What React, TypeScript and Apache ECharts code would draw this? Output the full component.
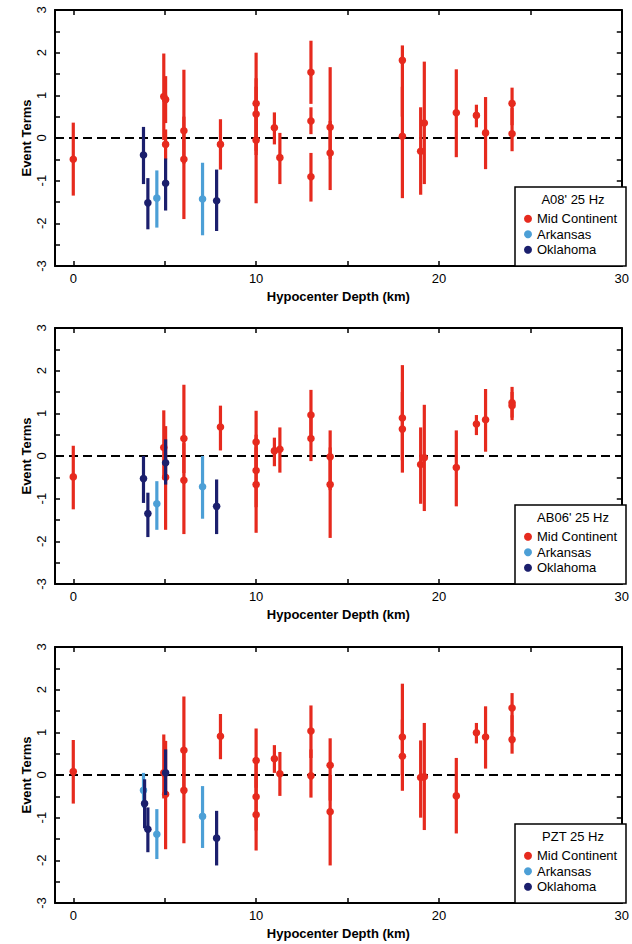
import React, { useEffect, useRef } from 'react';
import * as echarts from 'echarts';

// [depth (km), event term, lower end of bar, upper end of bar]
const a08Mid = [
  [0, -0.5, -1.35, 0.36], [4.95, 0.97, -0.05, 1.98], [5.05, 0.9, 0.35, 1.45], [5.05, -0.15, -0.5, 0.2],
  [6.05, 0.17, -0.6, 1.6], [6.05, -0.5, -1.9, 0.5], [8.05, -0.15, -0.74, 0.44],
  [10.0, 0.81, -0.4, 2.0], [10.0, 0.56, -0.3, 1.4], [10.0, -0.05, -1.53, 1.2],
  [11.0, 0.24, -0.15, 0.6], [11.3, -0.46, -1.08, 0.12],
  [13.0, 1.54, 0.8, 2.28], [13.0, 0.4, 0.09, 0.72], [13.0, -0.91, -1.49, -0.35],
  [14.05, 0.25, -0.5, 1.66], [14.05, -0.35, -1.22, 0.4],
  [18.0, 1.82, 0.5, 2.17], [18.0, 0.04, -1.41, 1.2],
  [19.0, -0.31, -1.33, 0.72], [19.2, 0.35, -1.08, 1.79],
  [20.95, 0.59, -0.45, 1.61], [22.05, 0.53, 0.25, 0.78], [22.55, 0.12, -0.73, 0.96],
  [24.0, 0.81, 0.3, 1.18], [24.0, 0.1, -0.31, 0.7],
];
const a08Ark = [[4.57, -1.41, -2.1, -0.76], [7.07, -1.43, -2.28, -0.58]];
const a08Okl = [[3.84, -0.4, -1.08, 0.26], [4.08, -1.52, -2.14, -0.94], [5.05, -1.06, -1.7, -0.48], [7.84, -1.47, -2.18, -0.74]];

const ab06Mid = [
  [0, -0.49, -1.25, 0.24], [4.95, 0.2, -0.55, 1.07], [5.05, -0.5, -1.73, 0.7],
  [6.05, 0.41, -0.4, 1.67], [6.05, -0.57, -1.83, 0.3], [8.05, 0.68, 0.13, 1.18],
  [10.0, 0.33, -0.3, 1.06], [10.0, -0.34, -1.2, 0.5], [10.0, -0.67, -1.8, 0.2],
  [11.0, 0.12, -0.24, 0.43], [11.3, 0.16, -0.39, 0.67],
  [13.0, 0.96, 0.4, 1.55], [13.0, 0.41, -0.12, 0.9],
  [14.05, -0.02, -0.8, 0.6], [14.05, -0.67, -1.92, 0.2],
  [18.0, 0.89, -0.1, 2.13], [18.0, 0.63, -0.39, 1.5],
  [19.0, -0.2, -1.12, 0.67], [19.2, -0.04, -1.29, 1.2],
  [20.95, -0.27, -1.18, 0.6], [22.05, 0.75, 0.49, 0.96], [22.55, 0.85, 0.1, 1.57],
  [24.0, 1.25, 0.9, 1.62], [24.0, 1.18, 0.84, 1.5],
];
const ab06Ark = [[4.57, -1.12, -1.73, -0.59], [7.07, -0.72, -1.47, 0.0]];
const ab06Okl = [[3.84, -0.53, -1.1, 0.0], [4.08, -1.35, -1.9, -0.86], [5.05, -0.16, -0.67, 0.39], [7.84, -1.18, -1.83, -0.55]];

const pztMid = [
  [0, 0.08, -0.67, 0.82], [4.95, 0.05, -0.55, 0.95], [5.05, -0.45, -1.74, 0.8],
  [6.05, 0.58, -0.3, 1.84], [6.05, -0.36, -1.6, 0.5], [8.05, 0.91, 0.37, 1.43],
  [10.0, 0.34, -0.3, 1.09], [10.0, -0.51, -1.3, 0.4], [10.0, -0.93, -1.77, 0.0],
  [11.0, 0.38, 0.05, 0.7], [11.3, 0.03, -0.49, 0.54],
  [13.0, 1.03, 0.4, 1.63], [13.0, -0.02, -0.53, 0.6],
  [14.05, 0.23, -0.6, 0.86], [14.05, -0.86, -2.12, 0.0],
  [18.0, 0.89, 0.0, 2.14], [18.0, 0.44, -0.37, 1.3],
  [19.0, -0.06, -1.0, 0.81], [19.2, -0.04, -1.29, 1.22],
  [20.95, -0.49, -1.37, 0.4], [22.05, 0.99, 0.74, 1.22], [22.55, 0.89, 0.15, 1.61],
  [24.0, 1.57, 1.0, 1.92], [24.0, 0.83, 0.5, 1.4],
];
const pztArk = [[3.84, -0.36, -0.76, 0.05], [4.57, -1.39, -1.97, -0.8], [7.07, -0.97, -1.71, -0.26]];
const pztOkl = [[3.9, -0.67, -1.25, -0.1], [4.08, -1.27, -1.81, -0.76], [5.05, 0.05, -0.47, 0.6], [7.84, -1.48, -2.12, -0.84]];

const panelTitles = ["A08' 25 Hz", "AB06' 25 Hz", 'PZT 25 Hz'];
const panelData = [
  [a08Mid, a08Ark, a08Okl],
  [ab06Mid, ab06Ark, ab06Okl],
  [pztMid, pztArk, pztOkl],
];
const groupNames = ['Mid Continent', 'Arkansas', 'Oklahoma'];
const groupColors = ['#e62a1e', '#4c9fd6', '#1b1f6d'];
const depthTicks = [0, 5, 10, 15, 20, 25, 30];
const depthLabels = [0, 10, 20, 30];
const termLabels = [-3, -2, -1, 0, 1, 2, 3];
const zeroLine = [[-1, 0], [30, 0]];

const FONT = '"Liberation Sans", Arial, Helvetica, sans-serif';
const TOPS = [10, 328, 647];
const LEFT = 55;
const WIDTH = 571;
const HEIGHT = 256;

function makeRender(color: string) {
  return (params: any, api: any) => {
    const x = api.value(0);
    const p = api.coord([x, api.value(1)]);
    const lo = api.coord([x, api.value(2)]);
    const hi = api.coord([x, api.value(3)]);
    return {
      type: 'group',
      children: [
        { type: 'line', shape: { x1: lo[0], y1: lo[1], x2: hi[0], y2: hi[1] }, style: { stroke: color, lineWidth: 3.2 } },
        { type: 'circle', shape: { cx: p[0], cy: p[1], r: 3.8 }, style: { fill: color } },
      ],
    };
  };
}

export default function App() {
  const ref = useRef<HTMLDivElement>(null);
  useEffect(() => {
    document.body.style.margin = '0';
    const chart = echarts.init(ref.current!, null, { renderer: 'svg' });
    const grid: any[] = [];
    const xAxis: any[] = [];
    const yAxis: any[] = [];
    const series: any[] = [];
    const legend: any[] = [];
    const graphic: any[] = [];
    const axisLine = { show: true, onZero: false, lineStyle: { color: '#000', width: 2 } };
    panelTitles.forEach((title, i) => {
      const top = TOPS[i];
      grid.push({ left: LEFT, top, width: WIDTH, height: HEIGHT, show: false });
      xAxis.push({
        type: 'value', gridIndex: i, position: 'bottom', min: -1, max: 30,
        axisLine, splitLine: { show: false },
        axisTick: { inside: true, length: 5, customValues: depthTicks, lineStyle: { color: '#000', width: 1.5 } },
        axisLabel: { customValues: depthLabels, margin: 6, fontSize: 13, color: '#000', fontFamily: FONT },
        name: 'Hypocenter Depth (km)', nameLocation: 'middle', nameGap: 24, nameMoveOverlap: false,
        nameTextStyle: { fontSize: 13, fontWeight: 'bold', color: '#000', fontFamily: FONT },
      });
      xAxis.push({
        type: 'value', gridIndex: i, position: 'top', min: -1, max: 30,
        axisLine, splitLine: { show: false },
        axisTick: { inside: true, length: 5, customValues: depthTicks, lineStyle: { color: '#000', width: 1.5 } },
        axisLabel: { show: false },
      });
      yAxis.push({
        type: 'value', gridIndex: i, position: 'left', min: -3, max: 3, interval: 0.5,
        axisLine, splitLine: { show: false },
        axisTick: { inside: true, length: 5, lineStyle: { color: '#000', width: 1.5 } },
        axisLabel: { customValues: termLabels, rotate: 90, margin: 7, fontSize: 13, color: '#000', fontFamily: FONT },
        name: 'Event Terms', nameLocation: 'middle', nameGap: 22, nameRotate: 90, nameMoveOverlap: false,
        nameTextStyle: { fontSize: 13, fontWeight: 'bold', color: '#000', fontFamily: FONT },
      });
      yAxis.push({
        type: 'value', gridIndex: i, position: 'right', min: -3, max: 3, interval: 0.5,
        axisLine, splitLine: { show: false },
        axisTick: { inside: true, length: 5, lineStyle: { color: '#000', width: 1.5 } },
        axisLabel: { show: false },
      });
      series.push({
        type: 'line', xAxisIndex: 2 * i, yAxisIndex: 2 * i, data: zeroLine, symbol: 'none', silent: true, z: 1,
        lineStyle: { color: '#000', width: 2, type: [9, 5] },
      });
      panelData[i].forEach((rows, g) => {
        series.push({
          type: 'custom', name: groupNames[g], xAxisIndex: 2 * i, yAxisIndex: 2 * i,
          itemStyle: { color: groupColors[g] }, data: rows, encode: { x: 0, y: [1, 2, 3] },
          renderItem: makeRender(groupColors[g]), z: 3 + g, clip: true,
        });
      });
      graphic.push({
        type: 'rect', z: 10, shape: { x: 515, y: top + 177, width: 111, height: 79 },
        style: { fill: '#fff', stroke: '#000', lineWidth: 1.5 },
      });
      graphic.push({
        type: 'text', z: 11, x: 573, y: top + 189,
        style: { text: title, fontSize: 13, fill: '#000', fontFamily: FONT, align: 'center', verticalAlign: 'middle' },
      });
      legend.push({
        orient: 'vertical', left: 524, top: top + 201, padding: 0, itemGap: 0, itemWidth: 8, itemHeight: 8,
        selectedMode: false, z: 20,
        data: groupNames.map((n, g) => ({ name: n, icon: 'circle', itemStyle: { color: groupColors[g] } })),
        textStyle: { fontSize: 13, lineHeight: 15.5, color: '#000', fontFamily: FONT },
      });
    });
    chart.setOption({
      animation: false,
      backgroundColor: '#fff',
      grid, xAxis, yAxis, series, legend, graphic,
    });
    return () => chart.dispose();
  }, []);
  return <div ref={ref} style={{ width: 632, height: 944 }} />;
}
